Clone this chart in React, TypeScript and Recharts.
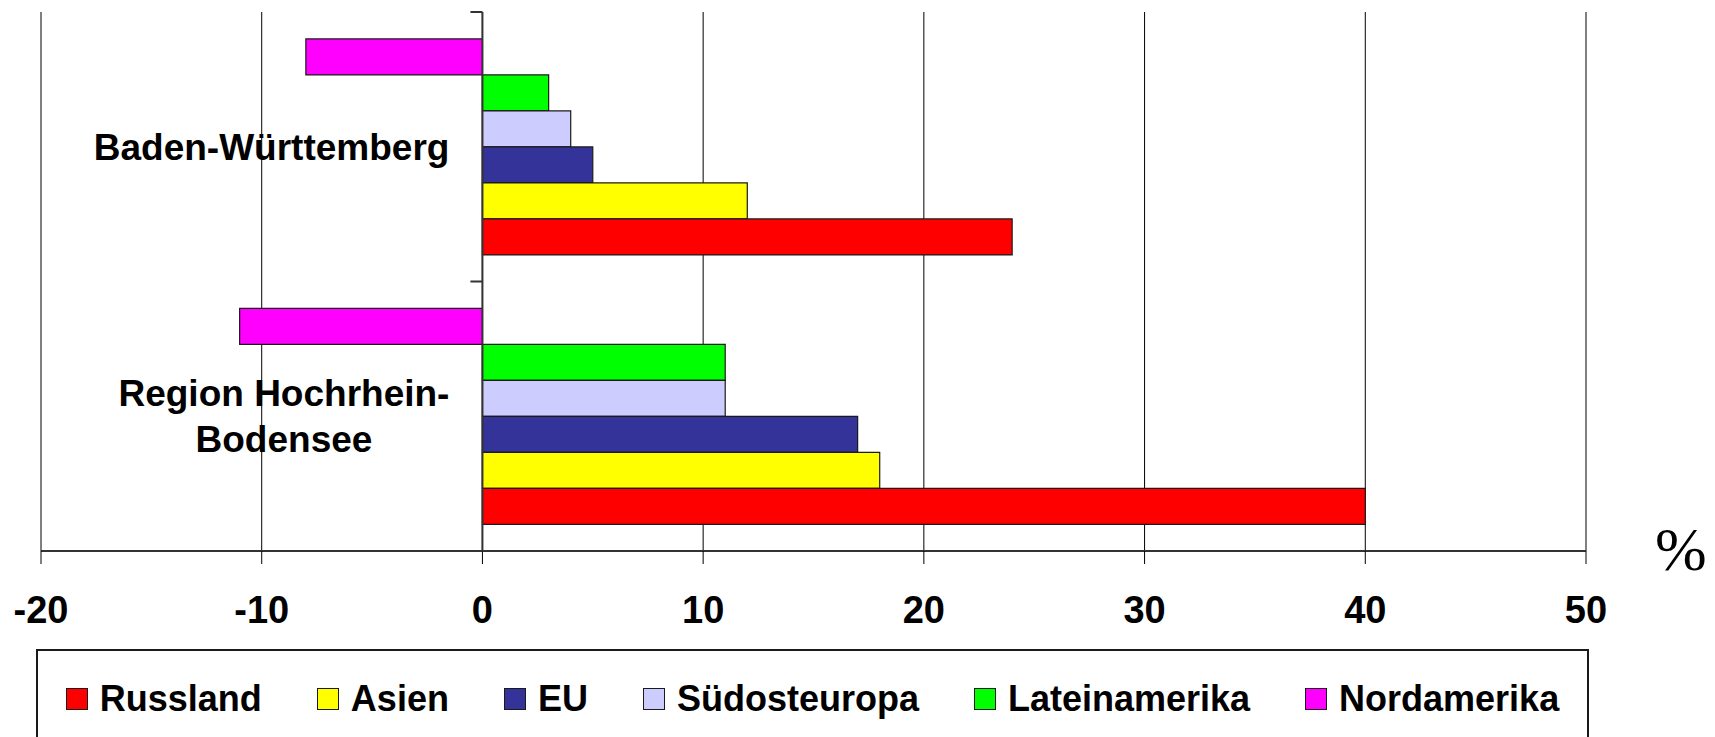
import { BarChart, Bar, XAxis, YAxis, CartesianGrid, ReferenceLine } from "recharts";

// categories top to bottom; "\n" marks the line break of the axis label
const CATEGORIES = ["Baden-Württemberg", "Region Hochrhein-\nBodensee"];

// values in %, same order as CATEGORIES
const RUSSLAND = [24, 40];
const ASIEN = [12, 18];
const EU = [5, 17];
const SUEDOSTEUROPA = [4, 11];
const LATEINAMERIKA = [3, 11];
const NORDAMERIKA = [-8, -11];

const X_TICKS = [-20, -10, 0, 10, 20, 30, 40, 50];

// legend order; bars are drawn in the reverse order (Nordamerika on top)
const SERIES = [
  { key: "Russland", values: RUSSLAND, color: "#ff0000" },
  { key: "Asien", values: ASIEN, color: "#ffff00" },
  { key: "EU", values: EU, color: "#333399" },
  { key: "Südosteuropa", values: SUEDOSTEUROPA, color: "#ccccff" },
  { key: "Lateinamerika", values: LATEINAMERIKA, color: "#00ff00" },
  { key: "Nordamerika", values: NORDAMERIKA, color: "#ff00ff" },
];

const data = CATEGORIES.map((name, i) => {
  const row: Record<string, string | number> = { name };
  SERIES.forEach((s) => (row[s.key] = s.values[i]));
  return row;
});

const W = 1715;
const H = 737;
const Y_AXIS_W = 1;
const MARGIN = { top: 12, right: 129, bottom: 116, left: 40 };
const X_AXIS_H = 70;
const FONT = "'Liberation Sans', Arial, sans-serif";
const LABEL_SIZE = 37;

const plotLeft = MARGIN.left + Y_AXIS_W;
const plotW = W - plotLeft - MARGIN.right;
const plotH = H - MARGIN.top - MARGIN.bottom - X_AXIS_H;
const xMin = X_TICKS[0];
const xMax = X_TICKS[X_TICKS.length - 1];
const zeroX = plotLeft + ((0 - xMin) / (xMax - xMin)) * plotW;
const band = plotH / CATEGORIES.length;

let ctx: CanvasRenderingContext2D | null = null;
function textWidth(s: string) {
  if (!ctx) {
    ctx = document.createElement("canvas").getContext("2d");
    if (ctx) ctx.font = `bold ${LABEL_SIZE}px ${FONT}`;
  }
  return ctx ? ctx.measureText(s).width : s.length * 20;
}

function CategoryTick(props: any) {
  const { y, payload, index } = props;
  const lines = String(payload.value).split("\n");
  const maxW = Math.max(...lines.map(textWidth));
  const cx = zeroX - 33 - maxW / 2;
  const lineH = 46;
  const y0 = y - ((lines.length - 1) * lineH) / 2;
  return (
    <g>
      {lines.map((l, i) => (
        <text
          key={i}
          x={cx}
          y={y0 + i * lineH}
          dy="0.35em"
          textAnchor="middle"
          fontFamily={FONT}
          fontWeight="bold"
          fontSize={LABEL_SIZE}
          fill="#000"
        >
          {l}
        </text>
      ))}
      <line x1={zeroX - 12} x2={zeroX} y1={y - band / 2} y2={y - band / 2} stroke="#333" strokeWidth={2} />
      {index === CATEGORIES.length - 1 && (
        <line x1={zeroX - 12} x2={zeroX} y1={y + band / 2} y2={y + band / 2} stroke="#333" strokeWidth={2} />
      )}
    </g>
  );
}

export default function App() {
  return (
    <div
      style={{
        position: "absolute",
        left: 0,
        top: 0,
        width: W,
        height: H,
        overflow: "hidden",
        background: "#fff",
      }}
    >
      <BarChart
        width={W}
        height={H}
        data={data}
        layout="vertical"
        margin={MARGIN}
        barCategoryGap="10%"
        barGap={0}
      >
        <CartesianGrid horizontal={false} stroke="#000" strokeWidth={1} />
        <XAxis
          type="number"
          domain={[xMin, xMax]}
          ticks={X_TICKS}
          height={X_AXIS_H}
          tickSize={13}
          tickMargin={32}
          axisLine={{ stroke: "#333", strokeWidth: 2 }}
          tickLine={{ stroke: "#000" }}
          tick={{ fill: "#000", fontSize: 38, fontWeight: "bold", fontFamily: FONT }}
        />
        <YAxis
          type="category"
          dataKey="name"
          width={Y_AXIS_W}
          axisLine={false}
          tickLine={false}
          interval={0}
          tick={(p: any) => <CategoryTick {...p} />}
        />
        {[...SERIES].reverse().map((s) => (
          <Bar
            key={s.key}
            dataKey={s.key}
            fill={s.color}
            stroke="#1a1a1a"
            strokeWidth={1.2}
            isAnimationActive={false}
          />
        ))}
        <ReferenceLine x={0} stroke="#333" strokeWidth={2} />
      </BarChart>

      <div
        style={{
          position: "absolute",
          left: 1655,
          top: 518,
          fontFamily: "'Liberation Serif', 'Times New Roman', serif",
          fontSize: 62,
          lineHeight: "62px",
          color: "#000",
        }}
      >
        %
      </div>

      <div
        style={{
          position: "absolute",
          left: 36,
          top: 649,
          width: 1553,
          height: 140,
          boxSizing: "border-box",
          border: "2px solid #1a1a1a",
          background: "#fff",
        }}
      >
        <div
          style={{
            position: "absolute",
            left: 0,
            right: 0,
            top: 48,
            transform: "translateY(-50%)",
            display: "flex",
            justifyContent: "center",
            alignItems: "center",
            gap: 55,
            fontFamily: FONT,
            fontWeight: "bold",
            fontSize: 36,
            color: "#000",
          }}
        >
          {SERIES.map((s) => (
            <div key={s.key} style={{ display: "flex", alignItems: "center" }}>
              <span
                style={{
                  width: 20,
                  height: 20,
                  background: s.color,
                  border: "1.5px solid #1a1a1a",
                  marginRight: 12,
                  display: "inline-block",
                }}
              />
              <span>{s.key}</span>
            </div>
          ))}
        </div>
      </div>
    </div>
  );
}
